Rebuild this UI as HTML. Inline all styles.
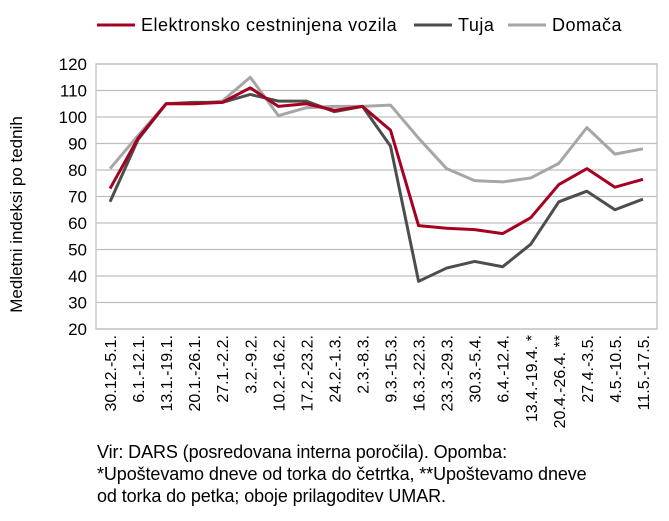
<!DOCTYPE html>
<html><head><meta charset="utf-8"><style>
body{margin:0;background:#fff;font-family:"Liberation Sans",sans-serif;}
svg{display:block}
.note{position:absolute;left:97px;top:441px;font-size:18px;line-height:22px;color:#000;width:570px;letter-spacing:-0.1px;white-space:nowrap}
</style></head><body>
<div style="position:relative;width:669px;height:521px;overflow:hidden">
<svg id="c" width="669" height="521"></svg>
<div class="note">Vir: DARS (posredovana interna poročila). Opomba:<br>*Upoštevamo dneve od torka do četrtka, **Upoštevamo dneve<br>od torka do petka; oboje prilagoditev UMAR.</div>
</div>
<script>
const categories=["30.12.-5.1.","6.1.-12.1.","13.1.-19.1.","20.1.-26.1.","27.1.-2.2.","3.2.-9.2.","10.2.-16.2.","17.2.-23.2.","24.2.-1.3.","2.3.-8.3.","9.3.-15.3.","16.3.-22.3.","23.3.-29.3.","30.3.-5.4.","6.4.-12.4.","13.4.-19.4. *","20.4.-26.4. **","27.4.-3.5.","4.5.-10.5.","11.5.-17.5."];
const elektronsko=[73,92,105,105,105.5,111,104,105,102.5,104,95,59,58,57.5,56,62,74.5,80.5,73.5,76.5];
const tuja=[68,91.5,105,105.5,105.5,108.5,106,106,102,104,89,38,43,45.5,43.5,52,68,72,65,69];
const domaca=[80.5,93,105,105,106,115,100.5,103.5,104,104,104.5,92,80.5,76,75.5,77,82.5,96,86,88];
const yTicks=[20,30,40,50,60,70,80,90,100,110,120];
const seriesNames=["Elektronsko cestninjena vozila","Tuja","Domača"];
const NS="http://www.w3.org/2000/svg";
const svg=document.getElementById('c');
const L=96,R=657,T=64,B=329,yMin=20,yMax=120;
const bw=(R-L)/categories.length;
const x=i=>L+bw*(i+0.5);
const y=v=>B-(v-yMin)/(yMax-yMin)*(B-T);
function mk(t,a){const e=document.createElementNS(NS,t);for(const k in a)e.setAttribute(k,a[k]);svg.appendChild(e);return e;}
yTicks.forEach(v=>{
 const g=mk('line',{x1:L,x2:R,y1:y(v),y2:y(v),stroke:'#bfbfbf','stroke-width':1.3});
 
 
 const t=mk('text',{x:L-9,y:y(v)+6,'text-anchor':'end','font-size':17,fill:'#000'});
 t.textContent=v;
 
 
});
const fr=mk('rect',{x:L,y:T,width:R-L,height:B-T,fill:'none',stroke:'#bfbfbf','stroke-width':1.3});


categories.forEach((c,i)=>{
 const t=mk('text',{x:0,y:0,'text-anchor':'end','font-size':16,fill:'#000',transform:`translate(${x(i)+6},${B+6}) rotate(-90)`});
 t.textContent=c;
 
 
});
const yt=mk('text',{x:0,y:0,'text-anchor':'middle','font-size':17,fill:'#000',transform:`translate(22,${(T+B)/2+18}) rotate(-90)`});
yt.textContent='Medletni indeksi po tednih';


const data=[[domaca,'#a6a6a6','series-domaca'],[tuja,'#4d4d4d','series-tuja'],[elektronsko,'#a50021','series-elektronsko']];
data.forEach(([d,col,n])=>{
 const p=mk('polyline',{points:d.map((v,i)=>x(i)+','+y(v)).join(' '),fill:'none',stroke:col,'stroke-width':3,'stroke-linejoin':'round'});
 
 
});
const leg=[[seriesNames[0],'#a50021',97],[seriesNames[1],'#4d4d4d',414],[seriesNames[2],'#a6a6a6',508]];
leg.forEach(([s,col,lx])=>{
 const l=mk('line',{x1:lx,x2:lx+38,y1:25,y2:25,stroke:col,'stroke-width':3});
 
 
 const t=mk('text',{x:lx+44,y:31,'font-size':18,'letter-spacing':0.5,fill:'#000'});
 t.textContent=s;
 
 
});
</script>
</body></html>
